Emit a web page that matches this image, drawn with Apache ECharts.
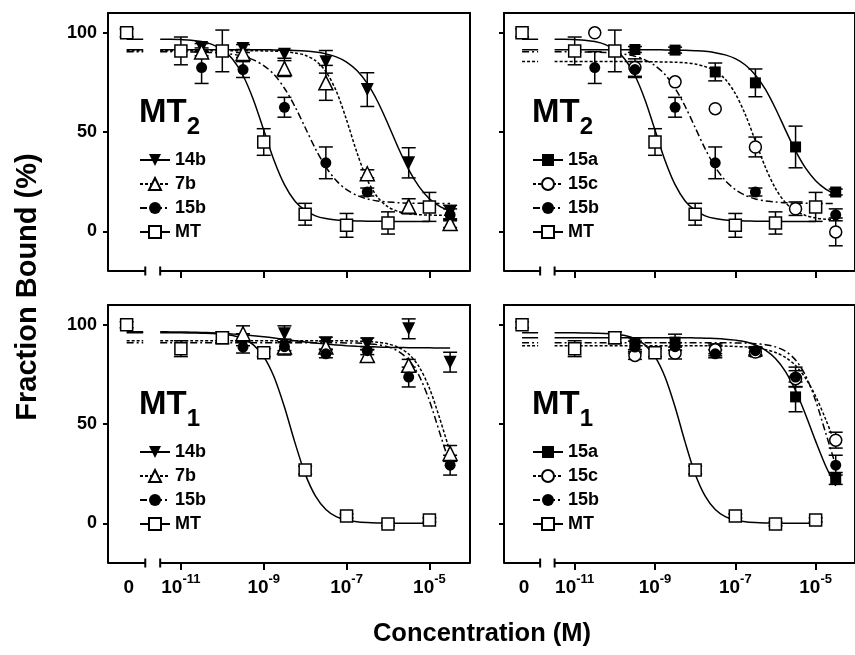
<!DOCTYPE html>
<html>
<head>
<meta charset="utf-8">
<script src="https://cdn.jsdelivr.net/npm/echarts@6/dist/echarts.min.js"></script>
<style>html,body{margin:0;padding:0;background:#fff}#main{width:855px;height:655px}</style>
</head>
<body>
<div id="main"></div>
<script>
(function(){
  var FONT = 'Liberation Sans, Arial, sans-serif';

  // x is log10(concentration); the "0" concentration sits left of the axis break
  var ZERO_X = -12.31, ZERO_LABEL = -12.26;
  var ZERO_END = -11.91;
  var BREAK_L = -11.86, BREAK_R = -11.5;
  var X_MIN = -12.76, X_MAX = -4.02;
  var Y_MIN = -20, Y_MAX = 110;

  var decades = [-11, -9, -7, -5];
  var yTicks = [0, 50, 100];

  // sample positions of the fitted curves (log10 M, quarter decades)
  var curveX = [-11.5, -11.25, -11, -10.75, -10.5, -10.25, -10, -9.75, -9.5, -9.25,
                -9, -8.75, -8.5, -8.25, -8, -7.75, -7.5, -7.25, -7, -6.75,
                -6.5, -6.25, -6, -5.75, -5.5, -5.25, -5, -4.75, -4.5];

  var xMT = [ZERO_X, -11, -10, -9, -8, -7, -6, -5];
  var xA = [-10.5, -9.5, -8.5, -7.5, -6.5, -5.5, -4.5];
  var xB = [-10.5, -9.5, -8.5, -7.5, -6.5, -4.5];
  var xC = [-9.5, -8.5, -7.5, -6.5, -5.5, -4.5];

  // ---- MT2 ----
  var mt2_MT = [100, 90.9, 90.9, 45, 8.6, 3.0, 4.2, 12.3];
  var mt2_MT_err = [2, 7, 10.5, 6.7, 5.5, 6, 5.6, 7.3];
  var mt2_MT_fit = [96.8, 96.8, 96.6, 96.3, 95.6, 94.2, 91.5, 86.7, 78.5, 66.3,
                    51, 35.7, 23.5, 15.3, 10.5, 7.8, 6.4, 5.7, 5.4, 5.2,
                    5.1, 5.05, 5, 5, 5, 5, 5, null, null];

  var mt2_14b = [92.6, 92.1, 89.2, 85.4, 71.4, 34.5, 9.7];
  var mt2_14b_err = [2, 2, 2, 5.7, 8.5, 7.6, 3.4];
  var mt2_14b_fit = [91.5, 91.5, 91.5, 91.5, 91.5, 91.5, 91.5, 91.5, 91.5, 91.5,
                     91.5, 91.4, 91.3, 91.1, 90.8, 90.3, 89.4, 87.9, 85.3, 81.0,
                     74.5, 65.4, 54.1, 42.0, 31.1, 22.5, 16.4, 12.6, 10.2];

  var mt2_7b = [90.4, 89.6, 82, 74.8, 29, 12.6, 3.9];
  var mt2_7b_err = [2, 2, 4, 8.8, 2, 3.8, 2];
  var mt2_7b_fit = [91, 91, 91, 91, 91, 91, 91, 91, 91, 91,
                    90.9, 90.8, 90.5, 89.9, 88.7, 86.0, 80.5, 70.7, 56.1, 39.7,
                    25.9, 17.1, 12.3, 10.0, 8.9, 8.4, 8.2, 8.1, 8.0];

  var mt2_15b = [82.5, 81.5, 62.5, 34.5, 19.8, 8.3];
  var mt2_15b_err = [8, 4, 5, 8, 2, 3];
  var mt2_15b_fit = [90.5, 90.5, 90.4, 90.4, 90.3, 90.1, 89.7, 89.2, 88.2, 86.4,
                     83.5, 79.0, 72.1, 63.0, 52.3, 41.5, 32.4, 25.6, 21.0, 18.1,
                     16.3, 15.3, 14.8, 14.4, 14.2, 14.1, 14.1, 14.0, 14.0];

  var mt2_15a = [91.6, 91.3, 80.3, 74.8, 42.5, 19.8];
  var mt2_15a_err = [1.5, 1.5, 4.5, 7, 10.5, 1.5];
  var mt2_15a_fit = [91.5, 91.5, 91.5, 91.5, 91.5, 91.5, 91.5, 91.5, 91.5, 91.5,
                     91.5, 91.4, 91.35, 91.2, 91.0, 90.7, 90.0, 88.9, 87.0, 83.8,
                     78.8, 71.5, 61.9, 51.0, 40.5, 31.8, 25.5, 21.3, 18.6];

  var mt2_15c = [100, 82.5, 75.3, 61.8, 42.5, 11.4, -0.3];
  var mt2_15c_err = [0, 4.4, 0, 0, 5, 3.4, 7];
  var mt2_15c_fit = [85.5, 85.5, 85.5, 85.5, 85.5, 85.5, 85.5, 85.5, 85.5, 85.5,
                     85.4, 85.3, 85.2, 84.9, 84.3, 83.0, 80.8, 76.6, 69.4, 58.8,
                     45.5, 32.2, 21.6, 14.4, 10.2, 8.0, 6.7, 6.1, 5.8];

  // ---- MT1 ----
  var mt1_MT = [100, 88, 93.5, 86, 26.8, 3.7, -0.3, 1.7];
  var mt1_MT_err = [1.5, 4, 3, 2, 2, 1, 1, 1];
  var mt1_MT_fit = [96, 96, 96, 95.9, 95.8, 95.7, 95.3, 94.6, 93.0, 89.9,
                    84.0, 73.7, 58.6, 40.9, 24.9, 13.7, 7.0, 3.4, 1.7, 0.8,
                    0.4, 0.2, 0.1, 0.05, 0, 0, 0, null, null];

  var mt1_14b = [92.5, 95.5, 90.8, 90.4, 98, 81.2];
  var mt1_14b_err = [3, 4, 3, 3, 5, 5];
  var mt1_14b_fit = [96.5, 96.45, 96.4, 96.3, 96.2, 96.0, 95.8, 95.4, 95.0, 94.5,
                     94.0, 93.4, 92.7, 92.0, 91.4, 90.8, 90.3, 89.9, 89.5, 89.2,
                     89.0, 88.85, 88.7, 88.6, 88.5, 88.45, 88.4, 88.35, 88.3];

  var mt1_7b = [95.5, 88.8, 88.8, 84.6, 79.6, 35.2];
  var mt1_7b_err = [4, 4, 3, 3, 3, 4];
  var mt1_7b_fit = [92, 92, 92, 92, 92, 92, 92, 92, 92, 92,
                    92, 92, 92, 92, 92, 92, 92, 92, 92, 91.8,
                    91.6, 91.2, 90.4, 88.7, 85.3, 78.9, 68.1, 52.8, 35.8];

  var mt1_15b = [88.8, 89, 85.4, 87, 73.7, 29.3];
  var mt1_15b_err = [3, 2, 2, 2, 5, 5];
  var mt1_15b_fit = [91, 91, 91, 91, 91, 91, 91, 91, 91, 91,
                     91, 91, 91, 91, 91, 91, 91, 91, 90.9, 90.8,
                     90.5, 90.0, 88.9, 86.7, 82.3, 74.4, 61.8, 45.5, 29.2];

  var mt1_15a = [90.5, 91.3, 87.5, 86.3, 63.7, 22.6];
  var mt1_15a_err = [3, 4, 2, 2, 7.5, 3];
  var mt1_15a_fit = [93.5, 93.5, 93.5, 93.5, 93.5, 93.5, 93.5, 93.5, 93.5, 93.5,
                     93.5, 93.5, 93.5, 93.5, 93.4, 93.3, 93.1, 92.8, 92.3, 91.5,
                     89.9, 87.3, 83.0, 76.4, 66.9, 54.7, 41.4, 28.9, 18.8];

  var mt1_15c = [84.6, 85.8, 87.4, 86.3, 72.9, 41.9];
  var mt1_15c_err = [2, 3, 3, 2, 4, 4];
  var mt1_15c_fit = [89.5, 89.5, 89.5, 89.5, 89.5, 89.5, 89.5, 89.5, 89.5, 89.5,
                     89.5, 89.5, 89.5, 89.5, 89.5, 89.5, 89.4, 89.3, 89.1, 88.9,
                     88.4, 87.5, 86.1, 83.6, 79.5, 73.1, 64.0, 52.4, 39.6];

  var sets = {
    '2': {
      'MT': [xMT, mt2_MT, mt2_MT_err, mt2_MT_fit],
      '14b': [xA, mt2_14b, mt2_14b_err, mt2_14b_fit],
      '7b': [xA, mt2_7b, mt2_7b_err, mt2_7b_fit],
      '15b': [xB, mt2_15b, mt2_15b_err, mt2_15b_fit],
      '15a': [xC, mt2_15a, mt2_15a_err, mt2_15a_fit],
      '15c': [xA, mt2_15c, mt2_15c_err, mt2_15c_fit]
    },
    '1': {
      'MT': [xMT, mt1_MT, mt1_MT_err, mt1_MT_fit],
      '14b': [xC, mt1_14b, mt1_14b_err, mt1_14b_fit],
      '7b': [xC, mt1_7b, mt1_7b_err, mt1_7b_fit],
      '15b': [xC, mt1_15b, mt1_15b_err, mt1_15b_fit],
      '15a': [xC, mt1_15a, mt1_15a_err, mt1_15a_fit],
      '15c': [xC, mt1_15c, mt1_15c_err, mt1_15c_fit]
    }
  };

  var looks = {
    '14b': {symbol: 'triangle', rotate: 180, size: 13, fill: '#000', dash: 'solid'},
    '7b':  {symbol: 'triangle', rotate: 0, size: 14, fill: '#fff', dash: [3, 2]},
    '15b': {symbol: 'circle', rotate: 0, size: 11, fill: '#000', dash: [7, 3, 2, 3]},
    'MT':  {symbol: 'rect', rotate: 0, size: 12, fill: '#fff', dash: 'solid'},
    '15a': {symbol: 'rect', rotate: 0, size: 11, fill: '#000', dash: 'solid'},
    '15c': {symbol: 'circle', rotate: 0, size: 12, fill: '#fff', dash: [3, 2]}
  };

  var panels = [
    {left: 108, top: 13, rec: '2', names: ['14b', '7b', '15b', 'MT'], xLabels: false, yLabels: true, legLeft: 139},
    {left: 504, top: 13, rec: '2', names: ['15a', '15c', '15b', 'MT'], xLabels: false, yLabels: false, legLeft: 532},
    {left: 108, top: 305, rec: '1', names: ['14b', '7b', '15b', 'MT'], xLabels: true, yLabels: true, legLeft: 139},
    {left: 504, top: 305, rec: '1', names: ['15a', '15c', '15b', 'MT'], xLabels: true, yLabels: false, legLeft: 532}
  ];

  var grids = [], xAxes = [], yAxes = [], series = [], legends = [], titles = [];
  var boxLine = {color: '#000', width: 2};

  function errorBar(params, api) {
    var x = api.value(0), y = api.value(1), e = api.value(2);
    if (!e) return null;
    var lo = api.coord([x, y - e]), hi = api.coord([x, y + e]);
    var w = 7, st = {stroke: '#000', lineWidth: 1.5};
    return {type: 'group', children: [
      {type: 'line', shape: {x1: lo[0], y1: lo[1], x2: hi[0], y2: hi[1]}, style: st},
      {type: 'line', shape: {x1: lo[0] - w, y1: lo[1], x2: lo[0] + w, y2: lo[1]}, style: st},
      {type: 'line', shape: {x1: hi[0] - w, y1: hi[1], x2: hi[0] + w, y2: hi[1]}, style: st}
    ]};
  }

  panels.forEach(function(p, i){
    grids.push({left: p.left, top: p.top, width: 362, height: 258, containLabel: false});
    xAxes.push({
      type: 'value', gridIndex: i, min: X_MIN, max: X_MAX, position: 'bottom',
      axisLine: {show: false, onZero: false},
      axisTick: {show: true, customValues: decades, length: 7, lineStyle: boxLine},
      axisLabel: {
        show: p.xLabels, customValues: [ZERO_LABEL].concat(decades), margin: 10,
        formatter: function(v){ return v < -12 ? '{n|0}' : '{n|10}{s|' + v + '}'; },
        rich: {
          n: {fontSize: 19, fontWeight: 'bold', fontFamily: FONT, color: '#000', lineHeight: 24, verticalAlign: 'bottom'},
          s: {fontSize: 13, fontWeight: 'bold', fontFamily: FONT, color: '#000', lineHeight: 24, verticalAlign: 'top'}
        }
      },
      splitLine: {show: false}
    });
    xAxes.push({
      type: 'value', gridIndex: i, min: X_MIN, max: X_MAX, position: 'top',
      axisLine: {show: true, onZero: false, lineStyle: boxLine},
      axisTick: {show: false}, axisLabel: {show: false}, splitLine: {show: false}
    });
    yAxes.push({
      type: 'value', gridIndex: i, min: Y_MIN, max: Y_MAX, position: 'left',
      axisLine: {show: true, onZero: false, lineStyle: boxLine},
      axisTick: {show: true, customValues: yTicks, length: 5, lineStyle: boxLine},
      axisLabel: {show: p.yLabels, customValues: yTicks, margin: 11, fontSize: 18, fontWeight: 'bold', fontFamily: FONT, color: '#000'},
      splitLine: {show: false}
    });
    yAxes.push({
      type: 'value', gridIndex: i, min: Y_MIN, max: Y_MAX, position: 'right',
      axisLine: {show: true, onZero: false, lineStyle: boxLine},
      axisTick: {show: false}, axisLabel: {show: false}, splitLine: {show: false}
    });

    var xi = 2 * i, yi = 2 * i;

    // broken bottom axis line
    var bar = {symbol: 'rect', symbolSize: [2, 9]};
    series.push({
      type: 'line', xAxisIndex: xi, yAxisIndex: yi, silent: true, clip: false, symbol: 'none', showSymbol: true,
      lineStyle: boxLine, itemStyle: {color: '#000'}, z: 5,
      data: [[X_MIN, Y_MIN], Object.assign({value: [BREAK_L, Y_MIN]}, bar)]
    });
    series.push({
      type: 'line', xAxisIndex: xi, yAxisIndex: yi, silent: true, clip: false, symbol: 'none', showSymbol: true,
      lineStyle: boxLine, itemStyle: {color: '#000'}, z: 5,
      data: [Object.assign({value: [BREAK_R, Y_MIN]}, bar), [X_MAX, Y_MIN]]
    });

    var set = sets[p.rec];
    p.names.forEach(function(name){
      var d = set[name], lk = looks[name];
      var itemStyle = {color: lk.fill, borderColor: '#000', borderWidth: lk.fill === '#fff' ? 1.5 : 0, opacity: 1};
      var fit = [];
      curveX.forEach(function(x, k){ if (d[3][k] !== null) fit.push([x, d[3][k]]); });
      series.push({
        name: name, type: 'line', xAxisIndex: xi, yAxisIndex: yi, smooth: 0.3,
        symbol: lk.symbol, symbolRotate: lk.rotate, symbolSize: lk.size, showSymbol: false,
        itemStyle: itemStyle, lineStyle: {color: '#000', width: 1.5, type: lk.dash},
        silent: true, z: 2, data: fit
      });
      series.push({
        name: name + ' at 0', type: 'line', xAxisIndex: xi, yAxisIndex: yi, symbol: 'none',
        lineStyle: {color: '#000', width: 1.5, type: lk.dash}, silent: true, z: 2,
        data: [[ZERO_X, d[3][0]], [ZERO_END, d[3][0]]]
      });
      series.push({
        name: name + ' sem', type: 'custom', xAxisIndex: xi, yAxisIndex: yi, renderItem: errorBar,
        encode: {x: 0, y: 1}, silent: true, clip: false, z: 3,
        data: d[0].map(function(x, k){ return [x, d[1][k], d[2][k]]; })
      });
      series.push({
        name: name + ' data', type: 'scatter', xAxisIndex: xi, yAxisIndex: yi,
        symbol: lk.symbol, symbolRotate: lk.rotate, symbolSize: lk.size, itemStyle: itemStyle,
        silent: true, z: 4,
        data: d[0].map(function(x, k){ return [x, d[1][k]]; })
      });
    });

    legends.push({
      orient: 'vertical', left: p.legLeft, top: p.top + 138, data: p.names,
      itemWidth: 30, itemHeight: 15, itemGap: 6, selectedMode: false, padding: 0,
      textStyle: {fontSize: 18, fontWeight: 'bold', fontFamily: FONT, color: '#000', lineHeight: 15}
    });
    titles.push({
      text: '{m|MT}{s|' + p.rec + '}', left: p.legLeft, top: p.top + 83, padding: 0,
      textStyle: {
        rich: {
          m: {fontSize: 33, fontWeight: 'bold', fontFamily: FONT, color: '#000', lineHeight: 43, verticalAlign: 'top'},
          s: {fontSize: 24, fontWeight: 'bold', fontFamily: FONT, color: '#000', lineHeight: 43, verticalAlign: 'bottom'}
        }
      }
    });
  });

  var chart = echarts.init(document.getElementById('main'));
  chart.setOption({
    animation: false,
    backgroundColor: '#fff',
    title: titles,
    legend: legends,
    grid: grids,
    xAxis: xAxes,
    yAxis: yAxes,
    series: series,
    graphic: [
      {type: 'text', x: 28, y: 287, rotation: Math.PI / 2,
       style: {text: 'Fraction Bound (%)', font: 'bold 29px ' + FONT, fill: '#000', align: 'center', verticalAlign: 'middle'}},
      {type: 'text', x: 482, y: 634,
       style: {text: 'Concentration (M)', font: 'bold 25.5px ' + FONT, fill: '#000', align: 'center', verticalAlign: 'middle'}}
    ]
  });
})();
</script>
</body>
</html>
